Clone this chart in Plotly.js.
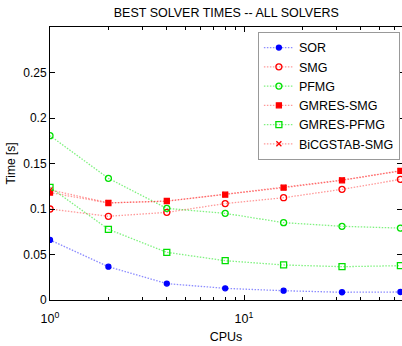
<!DOCTYPE html>
<html>
<head>
<meta charset="utf-8">
<script src="https://cdn.plot.ly/plotly-3.0.1.min.js"></script>
<style>html,body{margin:0;padding:0;background:#fff;}#chart{width:402px;height:346px;}</style>
</head>
<body>
<div id="chart"></div>
<script>
const cpus = [1, 2, 4, 8, 16, 32, 64];
const sor = [0.066, 0.0366, 0.018, 0.0128, 0.0102, 0.0085, 0.0088];
const smg = [0.100, 0.092, 0.0963, 0.106, 0.1124, 0.1216, 0.1326];
const pfmg = [0.1806, 0.1337, 0.1007, 0.0952, 0.085, 0.081, 0.079];
const gmresSmg = [0.118, 0.1066, 0.1088, 0.1157, 0.1234, 0.1315, 0.1418];
const gmresPfmg = [0.1238, 0.0777, 0.0524, 0.0432, 0.0385, 0.0366, 0.0377];
const bicgstabSmg = [0.121, 0.1068, 0.1085, 0.1160, 0.1236, 0.1318, 0.1420];
const names = ['SOR', 'SMG', 'PFMG', 'GMRES-SMG', 'GMRES-PFMG', 'BiCGSTAB-SMG'];
const yTicks = [0, 0.05, 0.1, 0.15, 0.2, 0.25];
const yTickText = ['0', '0.05', '0.1', '0.15', '0.2', '0.25'];
const xTicks = [1, 10];
const xTickText = ['10<sup>0</sup>', '10<sup>1</sup>'];
const xMinor = [2, 3, 4, 5, 6, 7, 8, 9, 20, 30, 40, 50, 60];

function tr(name, y, lineColor, mColor, symbol, size) {
  return {
    x: cpus, y: y, name: name, type: 'scatter', mode: 'lines+markers',
    line: {color: lineColor, width: 1.3, dash: '1.5px,1.5px'},
    marker: {color: mColor, symbol: symbol, size: size, line: {color: mColor, width: 1.3}}
  };
}
const data = [
  tr(names[0], sor, 'rgba(0,0,255,0.45)', '#0000ff', 'circle', 5),
  tr(names[1], smg, 'rgba(255,0,0,0.4)', '#ff0000', 'circle-open', 6),
  tr(names[2], pfmg, 'rgba(0,230,0,0.5)', '#00e000', 'circle-open', 6),
  tr(names[3], gmresSmg, 'rgba(255,0,0,0.4)', '#ff0000', 'square', 5),
  tr(names[4], gmresPfmg, 'rgba(0,230,0,0.5)', '#00e000', 'square-open', 6),
  tr(names[5], bicgstabSmg, 'rgba(255,0,0,0.4)', '#ff0000', 'x-thin-open', 5)
];
const layout = {
  width: 402, height: 346,
  margin: {l: 50, r: 0, t: 27, b: 46},
  paper_bgcolor: '#fff', plot_bgcolor: '#fff',
  font: {family: 'Liberation Sans, Arial, sans-serif', size: 12, color: '#000'},
  title: {text: 'BEST SOLVER TIMES -- ALL SOLVERS', font: {size: 12.5}, x: 0.563, xanchor: 'center', y: 0.963, yanchor: 'middle'},
  xaxis: {
    type: 'log', range: [0, 1.8144], tickmode: 'array', tickvals: xTicks, ticktext: xTickText,
    ticks: 'inside', ticklen: 5, tickcolor: '#000', showline: true, linecolor: '#000', linewidth: 1,
    mirror: 'ticks', showgrid: false, zeroline: false, ticklabelstandoff: 7,
    minor: {tickvals: xMinor, ticks: 'inside', ticklen: 3, tickcolor: '#000', showgrid: false},
    title: {text: 'CPUs', font: {size: 12.5}, standoff: 7},
    tickfont: {size: 12.5}
  },
  yaxis: {
    range: [0, 0.3], tickmode: 'array', tickvals: yTicks, ticktext: yTickText,
    ticks: 'inside', ticklen: 5, tickcolor: '#000', showline: true, linecolor: '#000', linewidth: 1,
    mirror: 'ticks', showgrid: false, zeroline: false,
    title: {text: 'Time [s]', font: {size: 12}, standoff: 5},
    tickfont: {size: 12}
  },
  legend: {
    x: 0.994, y: 0.982, xanchor: 'right', yanchor: 'top',
    bgcolor: '#fff', bordercolor: '#999', borderwidth: 1,
    font: {size: 12.5}, itemwidth: 30, tracegroupgap: 0
  },
  showlegend: true
};
Plotly.newPlot('chart', data, layout, {displayModeBar: false, staticPlot: true});
</script>
</body>
</html>
